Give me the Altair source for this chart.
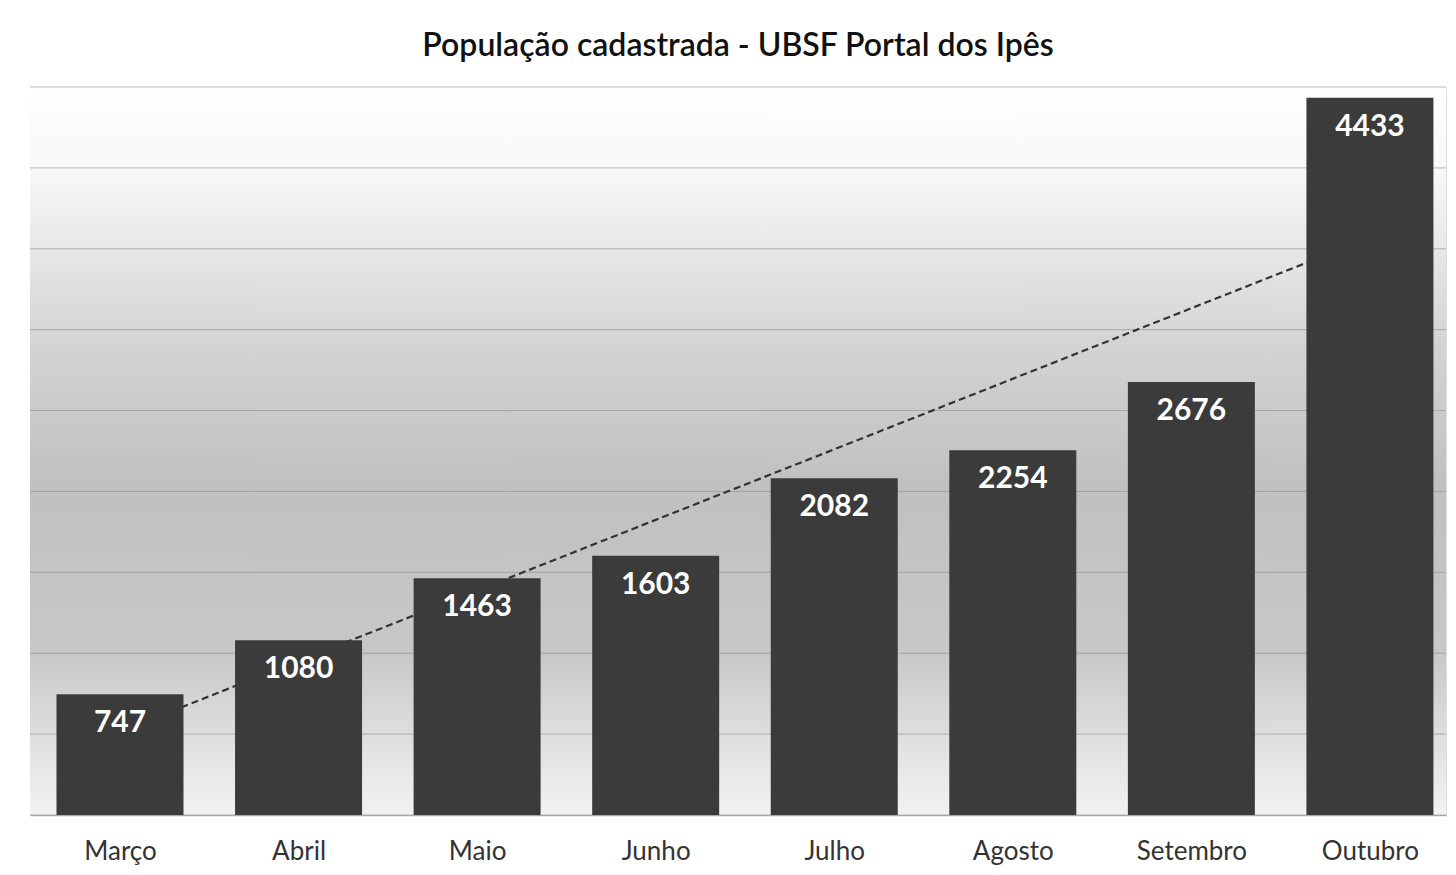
import altair as alt
import pandas as pd

months = ["Março", "Abril", "Maio", "Junho", "Julho", "Agosto", "Setembro", "Outubro"]
values = [747, 1080, 1463, 1603, 2082, 2254, 2676, 4433]
idx = list(range(1, len(months) + 1))
grid_values = [0, 500, 1000, 1500, 2000, 2500, 3000, 3500, 4000, 4500]
title = "População cadastrada - UBSF Portal dos Ipês"

df = pd.DataFrame({"idx": idx, "month": months, "value": values})
gdf = pd.DataFrame({"g": grid_values})

W, H = 1416, 728
FONT = "Lato"

label_expr = "[" + ",".join("'" + m + "'" for m in months) + "][datum.value - 1]"

xscale = alt.Scale(domain=[0.496, 8.426], nice=False, zero=False, padding=0)
yscale = alt.Scale(domain=[0, 4500], nice=False)

bg = alt.Chart(pd.DataFrame({"a": [0]})).mark_rect(
    color=alt.Gradient(
        gradient="linear",
        x1=0, x2=0, y1=0, y2=1,
        stops=[
            alt.GradientStop(offset=0.0, color="#ffffff"),
            alt.GradientStop(offset=0.12, color="#f7f7f7"),
            alt.GradientStop(offset=0.35, color="#d4d4d4"),
            alt.GradientStop(offset=0.55, color="#c0c0c0"),
            alt.GradientStop(offset=0.78, color="#c8c8c8"),
            alt.GradientStop(offset=0.92, color="#e4e4e4"),
            alt.GradientStop(offset=1.0, color="#f2f2f2"),
        ],
    )
).encode(x=alt.value(0), x2=alt.value(W), y=alt.value(0), y2=alt.value(H))

base = alt.Chart(df)

axes = base.mark_bar(opacity=0).encode(
    x=alt.X("idx:Q", scale=xscale,
            axis=alt.Axis(values=idx, labelExpr=label_expr, title=None, ticks=False,
                          grid=False, labelFontSize=26, labelFont=FONT, labelColor="#333333",
                          labelPadding=23, domainColor="#b5b5b5", domainWidth=1.5)),
    y=alt.Y("value:Q", scale=yscale, axis=None),
)

grid = alt.Chart(gdf).mark_rule(color="#8c8c8c", opacity=0.6, strokeWidth=1).encode(
    y=alt.Y("g:Q", scale=yscale, axis=None)
)

trend = base.transform_regression("idx", "value").mark_line(
    color="#333333", strokeDash=[7, 4], strokeWidth=2.2
).encode(x=alt.X("idx:Q", scale=xscale), y=alt.Y("value:Q", scale=yscale))

bars = base.mark_bar(size=127, color="#3b3b3b").encode(
    x=alt.X("idx:Q", scale=xscale), y=alt.Y("value:Q", scale=yscale)
)

labels = base.mark_text(
    color="white", fontSize=30, fontWeight="bold", font=FONT, baseline="middle", dy=29
).encode(x=alt.X("idx:Q", scale=xscale), y=alt.Y("value:Q", scale=yscale), text="value:Q")

chart = alt.layer(bg, grid, axes, trend, bars, labels).properties(
    width=W, height=H,
    title=alt.TitleParams(title, fontSize=32, font=FONT, fontWeight=600,
                          color="#111111", offset=24, anchor="middle"),
    autosize=alt.AutoSizeParams(type="none"),
    padding={"left": 22, "top": 79, "right": 2, "bottom": 52},
).configure_view(stroke=None).configure(background="white")

chart.save("out.html", embed_options={"renderer": "svg", "actions": False})
